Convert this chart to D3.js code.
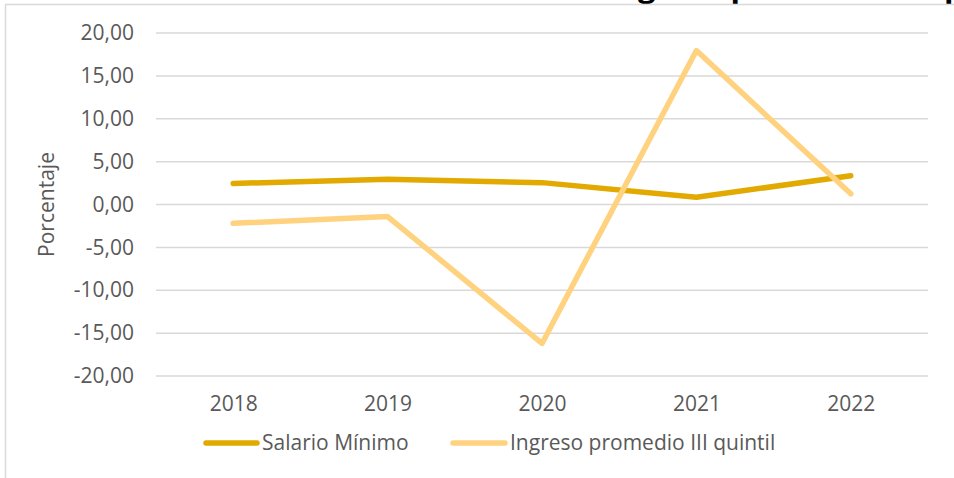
<!DOCTYPE html>
<html>
<head>
<meta charset="utf-8">
<script src="https://cdn.jsdelivr.net/npm/d3@7"></script>
<style>
  html, body { margin: 0; padding: 0; background: #fff; }
  svg { display: block; }
  text { font-family: "Open Sans", "DejaVu Sans", sans-serif; }
</style>
</head>
<body>
<script>
const years = ["2018", "2019", "2020", "2021", "2022"];
const salarioMinimo = [2.45, 2.95, 2.55, 0.85, 3.35];
const ingresoIIIQuintil = [-2.2, -1.4, -16.2, 17.95, 1.25];
const yTicks = [-20, -15, -10, -5, 0, 5, 10, 15, 20];
const seriesNames = ["Salario Mínimo", "Ingreso promedio III quintil"];
const seriesColors = ["#E2AA00", "#FFD27F"];
const yAxisTitle = "Porcentaje";
const chartTitle = "Variación del Salario Mínimo e ingreso promedio del período";

const W = 954, H = 478;
const FS = 21;
const svg = d3.select("body").append("svg").attr("width", W).attr("height", H);

// title (cut off at the top edge, as in the reference)
const title = svg.append("text")
  .attr("x", 0).attr("y", -3.5)
  .attr("font-weight", "bold").attr("font-size", 31).attr("fill", "#000")
  .text(chartTitle);
{
  const node = title.node();
  const gi = chartTitle.indexOf("greso");
  const off = node.getSubStringLength(0, gi);
  title.attr("x", 638 - off);
}

// chart border
svg.append("path")
  .attr("d", `M5.5,${H} L5.5,4.5 L${W},4.5`)
  .attr("fill", "none").attr("stroke", "#d9d9d9").attr("stroke-width", 1.5);

const x = d3.scalePoint().domain(years).range([156, 928]).padding(0.5);
const y = d3.scaleLinear().domain([-20, 20]).range([376, 33]);

// gridlines
svg.append("g").selectAll("line").data(yTicks).join("line")
  .attr("x1", 156).attr("x2", 928)
  .attr("y1", d => y(d)).attr("y2", d => y(d))
  .attr("stroke", "#d9d9d9").attr("stroke-width", 1.5);

const fmt = d => d3.format(".2f")(d).replace(".", ",").replace("−", "-");

// y axis
const yAxis = svg.append("g").attr("transform", "translate(146,0)")
  .call(d3.axisLeft(y).tickValues(yTicks).tickFormat(fmt).tickSize(0).tickPadding(12));
yAxis.select(".domain").remove();
yAxis.selectAll("text").attr("font-size", FS).attr("fill", "#595959")
  .style("font-family", "'Open Sans', sans-serif");

// x axis
const xAxis = svg.append("g").attr("transform", "translate(0,376)")
  .call(d3.axisBottom(x).tickSize(0).tickPadding(20));
xAxis.select(".domain").remove();
xAxis.selectAll("text").attr("font-size", FS).attr("fill", "#595959")
  .style("font-family", "'Open Sans', sans-serif");

// y axis title
svg.append("text")
  .attr("transform", `translate(54,${(33 + 376) / 2}) rotate(-90)`)
  .attr("text-anchor", "middle")
  .attr("font-size", FS).attr("fill", "#595959")
  .text(yAxisTitle);

// lines
const line = d3.line().x((d, i) => x(years[i])).y(d => y(d));
[salarioMinimo, ingresoIIIQuintil].forEach((vals, k) => {
  svg.append("path").datum(vals)
    .attr("d", line)
    .attr("fill", "none")
    .attr("stroke", seriesColors[k])
    .attr("stroke-width", 5.5)
    .attr("stroke-linecap", "round")
    .attr("stroke-linejoin", "round");
});

// legend
const legendItems = [
  { x1: 206, x2: 257, tx: 262 },
  { x1: 453, x2: 505, tx: 510 }
];
legendItems.forEach((it, k) => {
  svg.append("line")
    .attr("x1", it.x1).attr("x2", it.x2).attr("y1", 443).attr("y2", 443)
    .attr("stroke", seriesColors[k]).attr("stroke-width", 5.5)
    .attr("stroke-linecap", "round");
  svg.append("text")
    .attr("x", it.tx).attr("y", 443).attr("dy", "0.35em")
    .attr("font-size", FS).attr("fill", "#595959")
    .text(seriesNames[k]);
});
</script>
</body>
</html>
